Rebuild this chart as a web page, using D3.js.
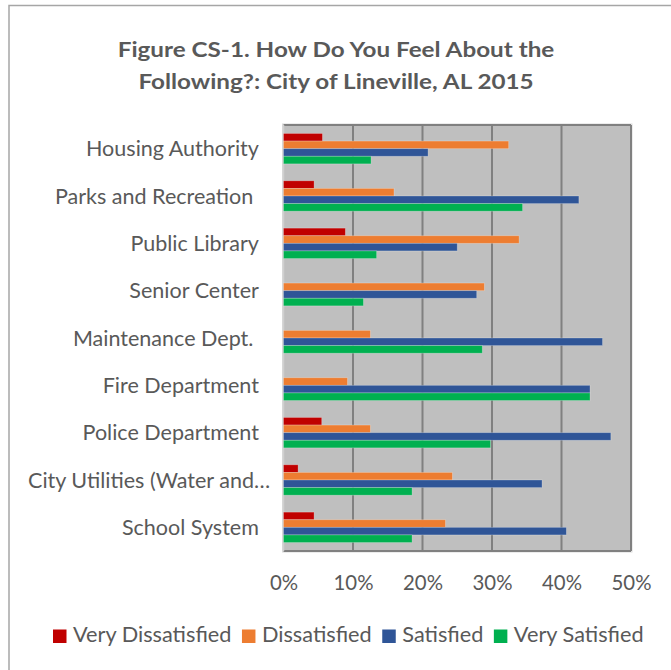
<!DOCTYPE html>
<html><head><meta charset="utf-8">
<script src="https://cdn.jsdelivr.net/npm/d3@7"></script>
<style>
html,body{margin:0;padding:0;background:#fff;}
svg text{font-family:Lato,"Open Sans",sans-serif;fill:#595959;white-space:pre;}
</style></head>
<body>
<svg id="c" width="671" height="670"></svg>
<script>
const categories = ["Housing Authority","Parks and Recreation ","Public Library","Senior Center","Maintenance Dept. ","Fire Department","Police Department","City Utilities (Water and\u2026","School System"];
const seriesNames = ["Very Dissatisfied","Dissatisfied","Satisfied","Very Satisfied"];
const veryDissatisfied = [5.6, 4.4, 8.9, 0, 0, 0, 5.5, 2.1, 4.4];
const dissatisfied     = [32.4, 15.9, 33.9, 28.9, 12.5, 9.2, 12.5, 24.3, 23.3];
const satisfied        = [20.8, 42.5, 25.0, 27.8, 45.9, 44.1, 47.1, 37.2, 40.7];
const verySatisfied    = [12.6, 34.4, 13.4, 11.5, 28.6, 44.1, 29.8, 18.5, 18.5];
const tickValues = [0, 10, 20, 30, 40, 50];
const titleLines = ["Figure CS-1. How Do You Feel About the","Following?: City of Lineville, AL 2015"];
const colors = ["#c00000","#ed7d31","#2f5597","#00b050"];

const seriesValues = [veryDissatisfied, dissatisfied, satisfied, verySatisfied];
const svg = d3.select("#c");

// horizontal stretch so text widths match the reference's wider face
function stretchFor(str, size, weight, target){
  const t = svg.append("text").attr("font-size",size).attr("font-weight",weight).text(str);
  const w = t.node().getComputedTextLength(); t.remove();
  return target / w;
}
function place(t, x, y, sx){ t.attr("transform",`translate(${x},${y}) scale(${sx},1)`); return t; }

// outer chart border
svg.append("rect").attr("x",9).attr("y",5.5).attr("width",700).attr("height",700)
  .attr("fill","#fff").attr("stroke","#a6a6a6").attr("stroke-width",1.5);

// title
const sxTitle = stretchFor(titleLines[0], 20.5, "bold", 437);
titleLines.forEach((d,i)=>{
  const t = svg.append("text").attr("text-anchor","middle").attr("font-weight","bold").attr("font-size",20.5).text(d);
  place(t, 336, 57+i*31.5, sxTitle);
});

const plot = {left:283.5, right:631, top:125, bottom:551};
const x = d3.scaleLinear().domain([0,50]).range([plot.left, plot.right]);
const y = d3.scaleBand().domain(categories).range([plot.top, plot.bottom]).paddingInner(0.358).paddingOuter(0.179);
const ys = d3.scaleBand().domain(seriesNames).range([0, y.bandwidth()]);

// plot area
svg.append("rect").attr("x",plot.left-1).attr("y",plot.top-1)
  .attr("width",plot.right-plot.left+2).attr("height",plot.bottom-plot.top+2)
  .attr("fill","none").attr("stroke","#d9d9d9").attr("stroke-width",1);
svg.append("rect").attr("x",plot.left).attr("y",plot.top)
  .attr("width",plot.right-plot.left).attr("height",plot.bottom-plot.top)
  .attr("fill","#bfbfbf");

// gridlines
svg.append("g").selectAll("line").data(tickValues.slice(1)).join("line")
  .attr("x1",d=>x(d)).attr("x2",d=>x(d)).attr("y1",plot.top).attr("y2",plot.bottom)
  .attr("stroke","#808080").attr("stroke-width",2);
svg.append("line").attr("x1",plot.left).attr("x2",plot.right).attr("y1",plot.top).attr("y2",plot.top)
  .attr("stroke","#808080").attr("stroke-width",2);
svg.append("line").attr("x1",plot.left).attr("x2",plot.right).attr("y1",plot.bottom).attr("y2",plot.bottom)
  .attr("stroke","#808080").attr("stroke-width",2);
svg.append("line").attr("x1",plot.left).attr("x2",plot.left).attr("y1",plot.top).attr("y2",plot.bottom)
  .attr("stroke","#d0d0d0").attr("stroke-width",1.5);

// bars
const rows = categories.map((c,i)=>({cat:c, vals:seriesNames.map((s,j)=>({s, j, v:seriesValues[j][i]}))}));
const g = svg.append("g").selectAll("g").data(rows).join("g")
  .attr("transform",d=>`translate(0,${y(d.cat)})`);
g.selectAll("rect").data(d=>d.vals.filter(v=>v.v>0)).join("rect")
  .attr("x",x(0)).attr("y",d=>ys(d.s)).attr("height",ys.bandwidth())
  .attr("width",d=>x(d.v)-x(0)).attr("fill",d=>colors[d.j])
  .attr("stroke","#ffffff").attr("stroke-opacity",0.3).attr("stroke-width",0.8);

// category labels
const sxLab = stretchFor("Housing Authority", 20.5, "normal", 173);
categories.forEach(c=>{
  const t = svg.append("text").attr("font-size",20.5).text(c);
  const w = t.node().getComputedTextLength()*sxLab;
  const lx = (259 - w < 28) ? 28 : 259 - w;
  place(t, lx, y(c)+y.bandwidth()/2+7.5, sxLab);
});

// x axis tick labels
const sxTick = stretchFor("50%", 20.5, "normal", 40);
const xAxis = d3.axisBottom(x).tickValues(tickValues).tickSize(0).tickPadding(0).tickFormat(d=>d+"%");
const ax = svg.append("g").attr("transform",`translate(0,${plot.bottom})`).call(xAxis);
ax.select(".domain").remove();
ax.selectAll("text").attr("font-size",20.5).attr("dy",null).attr("y",null)
  .attr("transform",`translate(0,39) scale(${sxTick},1)`)
  .style("font-family","Lato, 'Open Sans', sans-serif").attr("fill","#595959");

// legend
const sxLeg = stretchFor(seriesNames.join(""), 20.5, "normal", 479);
let lx = 53;
seriesNames.forEach((s,i)=>{
  svg.append("rect").attr("x",lx).attr("y",629.5).attr("width",13.5).attr("height",13.5).attr("fill",colors[i]);
  const t = svg.append("text").attr("font-size",20.5).text(s);
  place(t, lx+20, 642, sxLeg);
  lx += 20 + t.node().getComputedTextLength()*sxLeg + 10.5;
});
</script>
</body></html>
